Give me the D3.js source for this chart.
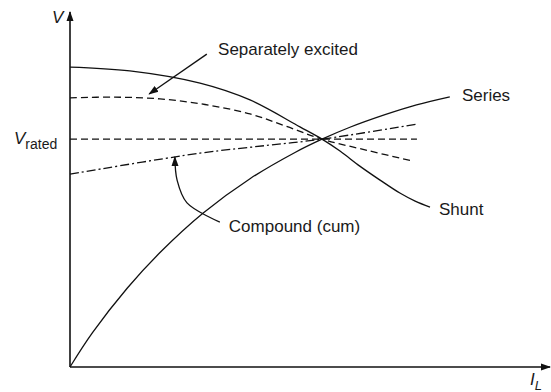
<!DOCTYPE html>
<html>
<head>
<meta charset="utf-8">
<script src="https://cdn.jsdelivr.net/npm/d3@7"></script>
<style>
  body { margin: 0; background: #fff; }
  text { font-family: "Liberation Sans", Arial, sans-serif; fill: #1a1a1a; }
</style>
</head>
<body>
<div id="chart"></div>
<script>
// curves in arbitrary units: load current 0..100, terminal voltage 0..100
const shunt = [[0, 85.7], [13.3, 84.6], [28.9, 81.1], [40, 76.3], [51.1, 68.6], [56, 65.1], [60, 61.7], [64.4, 57.4], [68.9, 53.4], [73.3, 49.7], [76.7, 47.4], [80, 45.7]]
const separately = [[0, 76.9], [10, 77.1], [20, 76.6], [30, 75], [40, 72.3], [48, 68.8], [56, 65.1], [66, 61.9], [76, 58.9]]
const series = [[0, 0], [5, 9.8], [12.7, 22.5], [20, 32.7], [29.6, 44], [40, 53.8], [50, 61.3], [56, 65.1], [62.2, 68.5], [70, 72.1], [77, 74.9], [84.4, 77.2]]
const compound = [[0, 55.1], [28.9, 61.1], [44.4, 63.4], [56, 65.1], [77.1, 69.4]]
const rated = [[0, 65.1], [77.1, 65.1]]

const labels = [
    { text: "Separately excited", at: [32.9, 89.1] },
    { text: "Compound (cum)", at: [35.3, 38.6] },
    { text: "Series", at: [87.1, 76] },
    { text: "Shunt", at: [82, 43.4] }
]
const sepArrow = [[30.4, 89.4], [17.6, 78]]
const compArrow = [[33.3, 41.4], [26, 46.9], [23.8, 53.4], [23.3, 60]]

const width = 551
const height = 392
const margin = { top: 17, bottom: 25, left: 70, right: 31 }

const x = d3.scaleLinear().domain([0, 100]).range([margin.left, width - margin.right])
const y = d3.scaleLinear().domain([0, 100]).range([height - margin.bottom, margin.top])

const svg = d3.select("#chart")
    .append("svg")
    .attr("width", width)
    .attr("height", height)

svg.append("defs").append("marker")
    .attr("id", "arrow")
    .attr("viewBox", "0 0 10 10")
    .attr("refX", 9)
    .attr("refY", 5)
    .attr("markerWidth", 10)
    .attr("markerHeight", 10)
    .attr("markerUnits", "userSpaceOnUse")
    .attr("orient", "auto")
    .append("path")
    .attr("d", "M0,1.5 L10,5 L0,8.5 Z")
    .attr("fill", "#111")

// axes
const axis = svg.append("g")
    .attr("stroke", "#111")
    .attr("stroke-width", 1.6)
    .attr("fill", "none")
axis.append("line")
    .attr("x1", x(0)).attr("y1", y(0))
    .attr("x2", x(0)).attr("y2", 12)
    .attr("marker-end", "url(#arrow)")
axis.append("line")
    .attr("x1", x(0)).attr("y1", y(0))
    .attr("x2", 550).attr("y2", y(0))
    .attr("marker-end", "url(#arrow)")

const line = d3.line()
    .x(d => x(d[0]))
    .y(d => y(d[1]))
    .curve(d3.curveCatmullRom.alpha(0.5))

const curves = [
    { data: shunt, dash: null },
    { data: series, dash: null },
    { data: separately, dash: "7,4" },
    { data: rated, dash: "7,4" },
    { data: compound, dash: "9,3,2,3" }
]

svg.append("g")
    .selectAll("path")
    .data(curves)
    .join("path")
    .attr("d", d => line(d.data))
    .attr("fill", "none")
    .attr("stroke", "#111")
    .attr("stroke-width", 1.3)
    .attr("stroke-dasharray", d => d.dash)

// annotation arrows
svg.append("path")
    .attr("d", d3.line().x(d => x(d[0])).y(d => y(d[1]))(sepArrow))
    .attr("fill", "none")
    .attr("stroke", "#111")
    .attr("stroke-width", 1.3)
    .attr("marker-end", "url(#arrow)")

svg.append("path")
    .attr("d", d3.line().x(d => x(d[0])).y(d => y(d[1])).curve(d3.curveCatmullRom)(compArrow))
    .attr("fill", "none")
    .attr("stroke", "#111")
    .attr("stroke-width", 1.3)
    .attr("marker-end", "url(#arrow)")

svg.append("g")
    .selectAll("text")
    .data(labels)
    .join("text")
    .attr("x", d => x(d.at[0]))
    .attr("y", d => y(d.at[1]))
    .attr("font-size", 17)
    .text(d => d.text)

// axis labels
const vLab = svg.append("text")
    .attr("x", 52).attr("y", 23)
    .attr("font-size", 17)
    .attr("font-style", "italic")
    .text("V")

const vr = svg.append("text")
    .attr("x", 14).attr("y", y(rated[0][1]) + 5)
    .attr("font-size", 17)
vr.append("tspan").attr("font-style", "italic").text("V")
vr.append("tspan").attr("font-size", 14).attr("dy", 5).text("rated")

const il = svg.append("text")
    .attr("x", 530).attr("y", 385)
    .attr("font-size", 17)
    .attr("font-style", "italic")
il.append("tspan").text("I")
il.append("tspan").attr("font-size", 13).attr("dy", 5).text("L")
</script>
</body>
</html>
